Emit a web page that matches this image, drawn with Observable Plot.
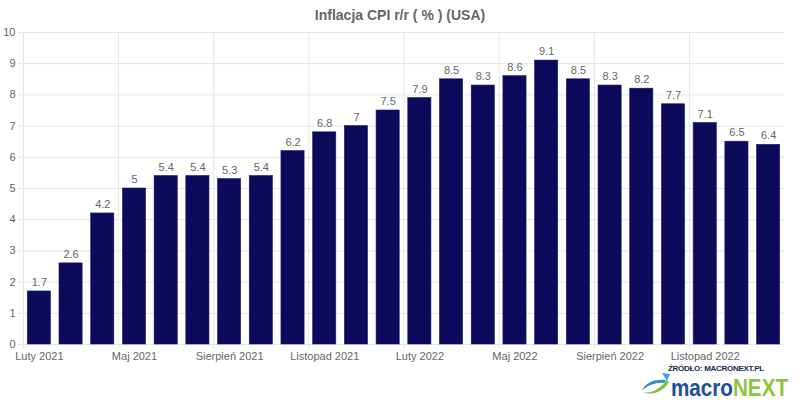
<!DOCTYPE html>
<html>
<head>
<meta charset="utf-8">
<script src="https://cdn.jsdelivr.net/npm/d3@7"></script>
<script src="https://cdn.jsdelivr.net/npm/@observablehq/plot@0.6"></script>
<style>
  html, body { margin: 0; padding: 0; background: #fff; }
  #wrap { position: relative; width: 800px; height: 400px; font-family: "Liberation Sans", Arial, Helvetica, sans-serif; }
  #title { position: absolute; left: 0; width: 800px; top: 7px; text-align: center; font-size: 14px; font-weight: bold; color: #666; }
  #src { position: absolute; left: 668px; top: 364px; font-size: 8px; line-height: 9px; font-weight: bold; color: #1b2a4a; letter-spacing: -0.3px; white-space: nowrap; }
  #brand { position: absolute; left: 671px; top: 376px; font-size: 24px; font-weight: bold; font-family: "Liberation Sans", Arial, sans-serif; line-height: 24px; white-space: nowrap; transform: scaleX(0.86); transform-origin: left top; }
  #brand .m { color: #1b4f9c; }
  #brand .n { color: #8cc63f; }
  #icon { position: absolute; left: 640px; top: 370px; }
</style>
</head>
<body>
<div id="wrap">
  <div id="chart"></div>
  <div id="title">Inflacja CPI r/r ( % ) (USA)</div>
  <svg id="icon" width="32" height="26" viewBox="0 0 32 26">
    <path d="M2 20 C6 12, 16 9, 26 10 L24 13 C16 12, 9 15, 2 20 Z" fill="#2a8fd0"/>
    <path d="M3 22 C10 24, 20 20, 26 10 L29 12 C23 22, 12 26, 3 22 Z" fill="#7cc242"/>
    <path d="M22 3 L30 4 L27 11 Z" fill="#3aa0dc"/>
  </svg>
  <div id="src">ŹRÓDŁO: MACRONEXT.PL</div>
  <div id="brand"><span class="m">macro</span><span class="n">NEXT</span></div>
</div>
<script>
const months = ["Luty 2021","Marzec 2021","Kwiecień 2021","Maj 2021","Czerwiec 2021","Lipiec 2021","Sierpień 2021","Wrzesień 2021","Październik 2021","Listopad 2021","Grudzień 2021","Styczeń 2022","Luty 2022","Marzec 2022","Kwiecień 2022","Maj 2022","Czerwiec 2022","Lipiec 2022","Sierpień 2022","Wrzesień 2022","Październik 2022","Listopad 2022","Grudzień 2022","Styczeń 2023"];
const values = [1.7,2.6,4.2,5,5.4,5.4,5.3,5.4,6.2,6.8,7,7.5,7.9,8.5,8.3,8.6,9.1,8.5,8.3,8.2,7.7,7.1,6.5,6.4];
const yTicks = [0,1,2,3,4,5,6,7,8,9,10];
const xTickLabels = months.filter((d, i) => i % 3 === 0);

const data = months.map((m, i) => ({month: m, value: values[i]}));

const W = 800, H = 400, mL = 23, mR = 16;
const step = (W - mL - mR) / months.length;
const padIn = 0.27;

const chart = Plot.plot({
  width: W,
  height: H,
  marginTop: 32,
  marginBottom: 56,
  marginLeft: mL,
  marginRight: mR,
  style: {fontFamily: "Liberation Sans, Arial, sans-serif", fontSize: "11px", color: "#666", background: "#fff"},
  x: {domain: months, paddingInner: padIn, paddingOuter: padIn / 2, round: false, label: null},
  y: {domain: [0, 10], label: null},
  marks: [
    Plot.ruleY(yTicks, {y: d => d, stroke: "#e6e6e6", strokeWidth: 1}),
    Plot.ruleX(xTickLabels, {x: d => d, dx: -step / 2, stroke: "#e6e6e6", insetBottom: -5}),
    Plot.barY(data, {x: "month", y: "value", fill: "#0d0a5c", stroke: "#1a1a6e", strokeWidth: 0.6}),
    Plot.text(data, {x: "month", y: "value", text: d => String(d.value), dy: -9, fill: "#666", fontSize: 11}),
    Plot.axisY({ticks: yTicks, tickSize: 5, stroke: "#e6e6e6", fill: "#666", tickPadding: 3, fontSize: 11}),
    Plot.axisX({ticks: xTickLabels, tickSize: 0, tickPadding: 8, fill: "#666", fontSize: 11})
  ]
});
document.getElementById("chart").appendChild(chart);
</script>
</body>
</html>
